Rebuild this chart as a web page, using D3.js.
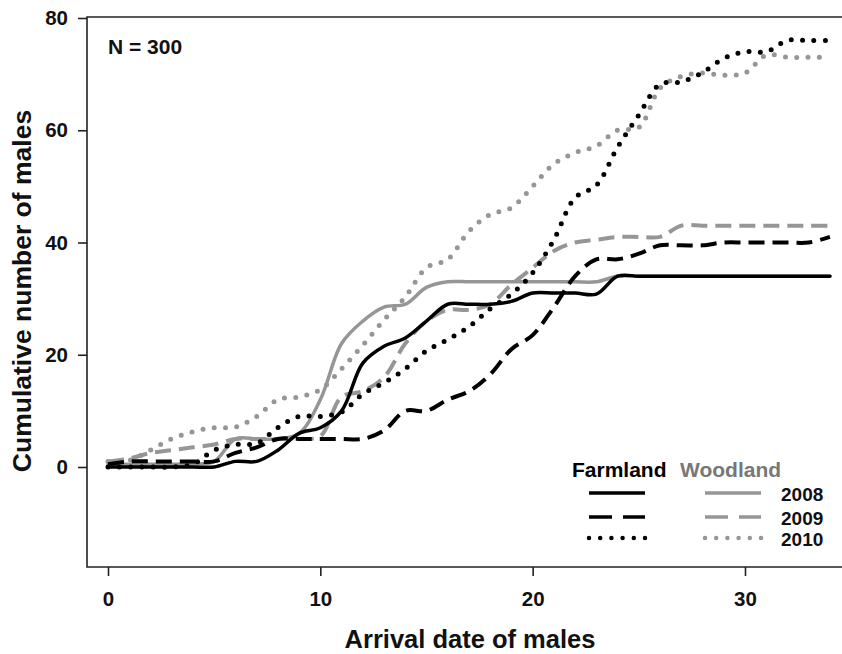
<!DOCTYPE html>
<html>
<head>
<meta charset="utf-8">
<script src="https://cdn.jsdelivr.net/npm/d3@7"></script>
<style>
  body { margin: 0; background: #fff; }
  text { font-family: "Liberation Sans", Arial, sans-serif; font-weight: bold; }
</style>
</head>
<body>
<div id="chart"></div>
<script>
// Arrival day (x) and cumulative count of males.
var days = [0, 1, 2, 3, 4, 5, 6, 7, 8, 9, 10, 11, 12, 13, 14, 15, 16, 17,
            18, 19, 20, 21, 22, 23, 24, 25, 26, 27, 28, 29, 30, 31, 32, 33, 34];

var farm2008 = [0, 0, 0, 0, 0, 0, 1, 1, 3, 6, 7, 10, 18.5, 21.5, 23, 26, 29,
                29, 29, 29.5, 31, 31, 31, 30.8, 34, 34, 34, 34, 34, 34, 34, 34, 34, 34, 34];
var farm2009 = [0.5, 1, 1, 1, 1, 1, 2.5, 3.5, 5, 5, 5, 5, 5, 6.5, 10, 10, 12,
                13.5, 16.5, 21, 23.5, 28.5, 34, 37, 37, 38, 39.5, 39.5, 39.5, 40, 40, 40, 40, 40, 41];
var farm2010 = [0, 0, 0, 0, 0.5, 3, 4, 4.2, 7, 9, 9, 9.8, 13, 15, 17.5, 20.7, 22.7,
                25, 28.2, 30.8, 34.6, 40.5, 48, 50.2, 57, 62.7, 68.2, 68.6, 70.3, 72.8, 74, 74, 76, 76, 76];
var wood2008 = [0.5, 0.5, 0.5, 0.5, 0.5, 1, 5, 5, 5, 6, 12, 22, 26, 28.5, 29, 32, 33,
                33, 33, 33, 33, 33, 33, 33, 34, 34, 34, 34, 34, 34, 34, 34, 34, 34, 34];
var wood2009 = [1, 1.5, 2.5, 3, 3.5, 4, 5, 5, 5, 5, 5.5, 12.5, 13.5, 16, 22, 26, 28,
                28, 29, 32.5, 35.5, 38.5, 40, 40.5, 41, 41, 41, 43, 43, 43, 43, 43, 43, 43, 43];
var wood2010 = [1, 1.2, 3, 5, 6.3, 7, 7.1, 9, 12, 12.5, 13.8, 17.5, 21.7, 26.2, 30.3, 35.5, 37,
                42, 45, 46.2, 50, 54, 56, 57.2, 60, 60.5, 67.5, 69.6, 70.2, 69.8, 70.2, 73.4, 73, 73, 73];

var habitats = ["Farmland", "Woodland"];
var years = ["2008", "2009", "2010"];
var xTicks = [0, 10, 20, 30];
var yTicks = [0, 20, 40, 60, 80];

var series = [
  {habitat: "Woodland", year: "2010", values: wood2010},
  {habitat: "Woodland", year: "2009", values: wood2009},
  {habitat: "Woodland", year: "2008", values: wood2008},
  {habitat: "Farmland", year: "2009", values: farm2009},
  {habitat: "Farmland", year: "2010", values: farm2010},
  {habitat: "Farmland", year: "2008", values: farm2008}
];

// styling
var habitatColor = {Farmland: "#000", Woodland: "#969696"};
var labelColor = {Farmland: "#000", Woodland: "#777"};
var yearStyle = {
  "2008": {width: 3.5, dash: null, cap: "round"},
  "2009": {width: 4, dash: "16 8", cap: "butt"},
  "2010": {width: 5, dash: "0 11.3", cap: "round"}
};

var W = 842, H = 654;
var svg = d3.select("#chart").append("svg")
    .attr("width", W)
    .attr("height", H);

var x = d3.scaleLinear().domain([0, 30]).range([108, 745]);
var y = d3.scaleLinear().domain([0, 80]).range([467, 18]);

var frameLeft = 87, frameTop = 17, frameBottom = 567;

// box around the plot (right side runs off the picture)
svg.append("path")
    .attr("d", "M" + (W + 5) + "," + frameTop + "H" + frameLeft + "V" + frameBottom + "H" + (W + 5))
    .attr("fill", "none")
    .attr("stroke", "#222")
    .attr("stroke-width", 1.6);

// y axis
var yAxis = svg.append("g")
    .attr("transform", "translate(" + frameLeft + ",0)")
    .call(d3.axisLeft(y).tickValues(yTicks).tickSize(9).tickPadding(10));
yAxis.select(".domain").remove();
yAxis.selectAll("line").attr("stroke", "#222").attr("stroke-width", 1.6);
yAxis.selectAll("text")
    .attr("font-size", 20.5)
    .attr("font-family", "Liberation Sans, Arial, sans-serif")
    .attr("font-weight", "bold")
    .attr("fill", "#111");

// x axis
var xAxis = svg.append("g")
    .attr("transform", "translate(0," + frameBottom + ")")
    .call(d3.axisBottom(x).tickValues(xTicks).tickSize(9).tickPadding(15));
xAxis.select(".domain").remove();
xAxis.selectAll("line").attr("stroke", "#222").attr("stroke-width", 1.6);
xAxis.selectAll("text")
    .attr("font-size", 20.5)
    .attr("font-family", "Liberation Sans, Arial, sans-serif")
    .attr("font-weight", "bold")
    .attr("fill", "#111");

// axis titles
svg.append("text")
    .attr("x", 470).attr("y", 648)
    .attr("text-anchor", "middle")
    .attr("font-size", 25.5)
    .attr("fill", "#111")
    .text("Arrival date of males");

svg.append("text")
    .attr("transform", "translate(31,291) rotate(-90)")
    .attr("text-anchor", "middle")
    .attr("font-size", 26.5)
    .attr("fill", "#111")
    .text("Cumulative number of males");

svg.append("text")
    .attr("x", 108).attr("y", 54)
    .attr("font-size", 21)
    .attr("fill", "#111")
    .text("N = 300");

// curves
var line = d3.line()
    .x(function(d, i) { return x(days[i]); })
    .y(function(d) { return y(d); })
    .curve(d3.curveCatmullRom.alpha(0.5));

series.forEach(function(s) {
  var st = yearStyle[s.year];
  svg.append("path")
      .datum(s.values)
      .attr("d", line)
      .attr("fill", "none")
      .attr("stroke", habitatColor[s.habitat])
      .attr("stroke-width", st.width)
      .attr("stroke-dasharray", st.dash)
      .attr("stroke-linecap", st.cap)
      .attr("stroke-linejoin", "round");
});

// legend
var legendHeadX = {Farmland: 572, Woodland: 680};
var legendLineX = {Farmland: [589, 645], Woodland: [705, 761]};
var legendRowY = {"2008": 493, "2009": 517, "2010": 538};
var legendDash = {"2008": null, "2009": "23 11", "2010": "0 11.2"};

habitats.forEach(function(h) {
  svg.append("text")
      .attr("x", legendHeadX[h]).attr("y", 477)
      .attr("font-size", 21)
      .attr("fill", labelColor[h])
      .text(h);
  years.forEach(function(yr) {
    svg.append("line")
        .attr("x1", legendLineX[h][0]).attr("x2", legendLineX[h][1])
        .attr("y1", legendRowY[yr]).attr("y2", legendRowY[yr])
        .attr("stroke", habitatColor[h])
        .attr("stroke-width", yr === "2010" ? 4.5 : 3.5)
        .attr("stroke-dasharray", legendDash[yr])
        .attr("stroke-linecap", yr === "2010" ? "round" : "butt");
  });
});

years.forEach(function(yr) {
  svg.append("text")
      .attr("x", 781).attr("y", legendRowY[yr] + 8)
      .attr("font-size", 19)
      .attr("fill", "#111")
      .text(yr);
});
</script>
</body>
</html>
